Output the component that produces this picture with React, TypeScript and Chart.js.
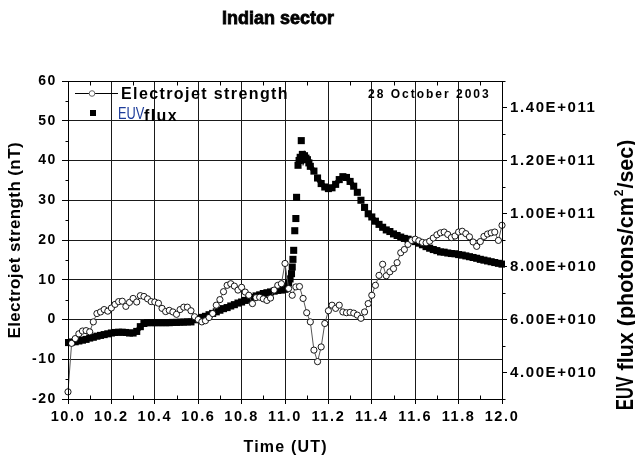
import React, { useEffect, useRef } from "react";
import { Chart, registerables } from "chart.js";

Chart.register(...registerables);

const FONT = '"Liberation Sans", Arial, Helvetica, sans-serif';

// ---- axes ----
const TIME_MIN = 10;
const TIME_MAX = 12;
const X_TICKS = [10.0, 10.2, 10.4, 10.6, 10.8, 11.0, 11.2, 11.4, 11.6, 11.8, 12.0];
const X_MINOR = [10.1, 10.3, 10.5, 10.7, 10.9, 11.1, 11.3, 11.5, 11.7, 11.9];
const LEFT_MIN = -20;
const LEFT_MAX = 60;
const LEFT_TICKS = [-20, -10, 0, 10, 20, 30, 40, 50, 60];
const LEFT_MINOR = [-15, -5, 5, 15, 25, 35, 45, 55];
const RIGHT_MIN = 3e10;
const RIGHT_MAX = 1.5e11;
const RIGHT_TICKS = [4e10, 6e10, 8e10, 1e11, 1.2e11, 1.4e11];
const RIGHT_MINOR = [3e10, 5e10, 7e10, 9e10, 1.1e11, 1.3e11, 1.5e11];

// ---- texts ----
const TITLE = "Indian sector";
const DATE_LABEL = "28 October 2003";
const X_TITLE = "Time (UT)";
const LEFT_TITLE = "Electrojet strength (nT)";
const SERIES_EJ = "Electrojet strength";
const SERIES_EUV = "EUV flux";

// ---- Electrojet strength (nT), one value per minute from 10:00 UT ----
const EJ_START_UT = 10;
const EJ_VALUES = [
  -18.2, -6.0, -4.8, -3.6, -2.9, -2.8, -3.1, -0.6, 1.5, 1.9,
  2.5, 2.1, 2.9, 3.8, 4.5, 4.6, 3.3, 4.3, 5.3, 4.4,
  6.0, 5.8, 5.2, 4.5, 4.4, 4.1, 2.8, 2.0, 2.3, 1.9,
  1.3, 2.5, 3.1, 3.1, 2.2, 0.7, 0.0, -0.6, -0.3, 0.5,
  1.5, 3.6, 5.0, 7.0, 8.6, 9.0, 8.4, 7.4, 8.1, 6.9,
  6.1, 4.0, 5.5, 5.6, 5.2, 4.8, 5.4, 7.4, 8.6, 9.0,
  14.1, 7.8, 6.1, 8.2, 8.3, 5.3, 1.7, -0.6, -7.7, -10.6,
  -6.9, -1.0, 2.2, 3.6, 2.8, 3.6, 1.9, 1.7, 1.8, 1.6,
  1.1, 0.3, 1.9, 4.0, 6.1, 8.6, 11.1, 13.9, 11.0, 12.0,
  12.8, 14.3, 16.8, 17.6, 18.9, 19.9, 20.2, 19.8, 19.4, 19.3,
  19.7, 20.5, 21.3, 21.8, 22.0, 21.4, 20.6, 21.0, 22.0, 22.2,
  21.6, 20.8, 19.5, 18.4, 19.6, 20.9, 21.5, 21.8, 22.0, 19.9,
  23.7,
];

// ---- EUV flux (photons/cm^2/sec), minutes after 10:00 UT ----
const EUV_MINUTES = [
  0, 1, 2, 3, 4, 5, 6, 7, 8, 9,
  10, 11, 12, 13, 14, 15, 16, 17, 18, 19,
  20, 21, 22, 23, 24, 25, 26, 27, 28, 29,
  30, 31, 32, 33, 34, 35, 36, 37, 38, 39,
  40, 41, 42, 43, 44, 45, 46, 47, 48, 49,
  50, 51, 52, 53, 54, 55, 56, 57, 58, 59,
  60, 60.5, 61, 61.4, 61.8, 62, 62.2, 62.4, 62.7, 63,
  63.2, 63.6, 63.9, 64.2, 64.5, 64.8, 65.1, 65.4, 65.8, 66.2,
  66.6, 67, 68, 69, 70, 71, 72, 73, 74, 75,
  76, 77, 78, 79, 80, 81, 82, 83, 84, 85,
  86, 87, 88, 89, 90, 91, 92, 93, 94, 95,
  96, 97, 98, 99, 100, 101, 102, 103, 104, 105,
  106, 107, 108, 109, 110, 111, 112, 113, 114, 115,
  116, 117, 118, 119, 120,
];
const EUV_FLUX = [
  5.13e10, 5.15e10, 5.16e10, 5.19e10, 5.22e10, 5.25e10, 5.30e10, 5.33e10, 5.37e10, 5.40e10,
  5.43e10, 5.46e10, 5.49e10, 5.51e10, 5.52e10, 5.52e10, 5.51e10, 5.49e10, 5.49e10, 5.55e10,
  5.73e10, 5.85e10, 5.88e10, 5.88e10, 5.88e10, 5.88e10, 5.88e10, 5.88e10, 5.88e10, 5.89e10,
  5.89e10, 5.90e10, 5.90e10, 5.91e10, 5.91e10, 5.99e10, 6.03e10, 6.08e10, 6.12e10, 6.18e10,
  6.23e10, 6.29e10, 6.35e10, 6.41e10, 6.45e10, 6.51e10, 6.56e10, 6.62e10, 6.66e10, 6.72e10,
  6.77e10, 6.83e10, 6.89e10, 6.93e10, 6.98e10, 7.01e10, 7.04e10, 7.07e10, 7.10e10, 7.11e10,
  7.14e10, 7.25e10, 7.38e10, 7.53e10, 7.73e10, 7.98e10, 8.27e10, 8.61e10, 9.35e10, 9.81e10,
  10.61e10, 11.82e10, 12.00e10, 12.12e10, 12.75e10, 12.23e10, 12.08e10, 12.18e10, 12.09e10, 12.03e10,
  11.91e10, 11.78e10, 11.60e10, 11.34e10, 11.13e10, 11.00e10, 10.94e10, 10.97e10, 11.10e10, 11.28e10,
  11.39e10, 11.36e10, 11.21e10, 11.03e10, 10.80e10, 10.50e10, 10.23e10, 9.99e10, 9.87e10, 9.71e10,
  9.59e10, 9.48e10, 9.38e10, 9.32e10, 9.23e10, 9.17e10, 9.11e10, 9.06e10, 9.03e10, 8.99e10,
  8.94e10, 8.88e10, 8.82e10, 8.75e10, 8.69e10, 8.64e10, 8.60e10, 8.55e10, 8.54e10, 8.51e10,
  8.49e10, 8.48e10, 8.45e10, 8.43e10, 8.40e10, 8.37e10, 8.34e10, 8.31e10, 8.27e10, 8.24e10,
  8.21e10, 8.18e10, 8.15e10, 8.12e10, 8.09e10,
];

function sci(v: number): string {
  const e = Math.floor(Math.log10(v) + 1e-9);
  const m = v / Math.pow(10, e);
  return m.toFixed(2) + "E+" + String(e).padStart(3, "0");
}

function drawText(
  ctx: CanvasRenderingContext2D,
  s: string,
  x: number,
  y: number,
  font: string,
  spacing: number,
  align: CanvasTextAlign = "left",
  color = "#000"
) {
  ctx.save();
  ctx.font = font;
  (ctx as any).letterSpacing = spacing + "px";
  ctx.fillStyle = color;
  ctx.textBaseline = "alphabetic";
  const w = ctx.measureText(s).width - spacing;
  let sx = x;
  if (align === "center") sx = x - w / 2;
  else if (align === "right") sx = x - w;
  ctx.textAlign = "left";
  ctx.fillText(s, sx, y);
  ctx.restore();
  return w;
}

const decorPlugin = {
  id: "decor",
  beforeDraw(chart: any) {
    chart.ctx.letterSpacing = "1.6px";
  },
  afterDraw(chart: any) {
    const ctx: CanvasRenderingContext2D = chart.ctx;
    const { left, right, top, bottom } = chart.chartArea;
    const xs = chart.scales.x;
    const ys = chart.scales.y;
    const y2 = chart.scales.y2;
    ctx.save();
    (ctx as any).letterSpacing = "0px";
    ctx.strokeStyle = "#000";
    ctx.lineWidth = 1;
    const L = Math.round(left) + 0.5;
    const R = Math.round(right) + 0.5;
    const T = Math.round(top) + 0.5;
    const B = Math.round(bottom) + 0.5;
    ctx.beginPath();
    ctx.rect(L, T, R - L, B - T);
    X_MINOR.forEach((v) => {
      const px = Math.round(xs.getPixelForValue(v)) + 0.5;
      ctx.moveTo(px, B);
      ctx.lineTo(px, B - 4);
      ctx.moveTo(px, T);
      ctx.lineTo(px, T + 4);
    });
    LEFT_MINOR.forEach((v) => {
      const py = Math.round(ys.getPixelForValue(v)) + 0.5;
      ctx.moveTo(L, py);
      ctx.lineTo(L - 3, py);
    });
    RIGHT_MINOR.forEach((v) => {
      const py = Math.round(y2.getPixelForValue(v)) + 0.5;
      ctx.moveTo(R, py);
      ctx.lineTo(R + 3, py);
    });
    ctx.stroke();

    // Title
    ctx.save();
    ctx.font = `bold 18px ${FONT}`;
    ctx.textAlign = "center";
    ctx.fillStyle = "#000";
    ctx.strokeStyle = "#000";
    ctx.lineWidth = 0.8;
    ctx.fillText(TITLE, 278, 23.5);
    ctx.strokeText(TITLE, 278, 23.5);
    ctx.restore();

    // date
    drawText(ctx, DATE_LABEL, 368, 97.5, `bold 12px ${FONT}`, 2);

    // X title
    drawText(ctx, X_TITLE, 285, 451.5, `bold 16px ${FONT}`, 1.2, "center");

    // Left title
    ctx.save();
    ctx.translate(20, 240.5);
    ctx.rotate(-Math.PI / 2);
    drawText(ctx, LEFT_TITLE, 0, 0, `bold 17px ${FONT}`, 0.4, "center");
    ctx.restore();

    // Right title
    ctx.save();
    ctx.translate(633, 410);
    ctx.rotate(-Math.PI / 2);
    ctx.fillStyle = "#000";
    ctx.save();
    ctx.scale(0.68, 1);
    ctx.font = `bold 24px ${FONT}`;
    ctx.fillText("EUV", 0, 0);
    const euvW = ctx.measureText("EUV").width * 0.68;
    ctx.restore();
    let cx = euvW + 6;
    ctx.font = `bold 21.5px ${FONT}`;
    const p1 = "flux (photons/cm";
    ctx.fillText(p1, cx, 0);
    cx += ctx.measureText(p1).width;
    ctx.font = `bold 12px ${FONT}`;
    ctx.fillText("2", cx + 1, -10);
    cx += ctx.measureText("2").width + 2;
    ctx.font = `bold 21.5px ${FONT}`;
    ctx.fillText("/sec)", cx, 0);
    ctx.restore();

    // Legend
    ctx.beginPath();
    ctx.strokeStyle = "#000";
    ctx.lineWidth = 1;
    ctx.moveTo(75, 93.5);
    ctx.lineTo(118, 93.5);
    ctx.stroke();
    ctx.beginPath();
    ctx.arc(92, 93.5, 2.8, 0, Math.PI * 2);
    ctx.fillStyle = "#fff";
    ctx.fill();
    ctx.strokeStyle = "#666";
    ctx.stroke();
    drawText(ctx, SERIES_EJ, 121, 99, `bold 16px ${FONT}`, 1.4);
    ctx.fillStyle = "#000";
    ctx.fillRect(90, 110, 6, 6);
    const euvWord = SERIES_EUV.split(" ")[0];
    const fluxWord = SERIES_EUV.split(" ")[1];
    ctx.save();
    ctx.translate(118, 118.5);
    ctx.scale(0.8, 1);
    ctx.font = `16px ${FONT}`;
    ctx.fillStyle = "#1d3c9a";
    ctx.fillText(euvWord, 0, 0);
    ctx.restore();
    drawText(ctx, fluxWord, 144, 120.5, `bold 16px ${FONT}`, 1.4);

    ctx.restore();
  },
};

export default function App() {
  const ref = useRef<HTMLCanvasElement | null>(null);
  useEffect(() => {
    const canvas = ref.current;
    if (!canvas) return;
    const ejData = EJ_VALUES.map((v, i) => ({ x: EJ_START_UT + i / 60, y: v }));
    const euvData = EUV_MINUTES.map((m, i) => ({ x: EJ_START_UT + m / 60, y: EUV_FLUX[i] }));
    const tickFont = (size: number) => ({ family: FONT, size, weight: "bold" as const });
    const chart = new Chart(canvas, {
      type: "scatter",
      data: {
        datasets: [
          {
            label: SERIES_EJ,
            data: ejData,
            yAxisID: "y",
            showLine: true,
            borderColor: "#555",
            borderWidth: 1,
            pointStyle: "circle",
            pointRadius: 3.1,
            pointBorderWidth: 0.9,
            pointBorderColor: "#000",
            pointBackgroundColor: "#fff",
            clip: 5,
          } as any,
          {
            label: SERIES_EUV,
            data: euvData,
            yAxisID: "y2",
            showLine: true,
            borderColor: "#000",
            borderWidth: 5,
            segment: {
              borderColor: (c: any) =>
                Math.abs(c.p1.parsed.y - c.p0.parsed.y) > 0.22e10 ? "rgba(0,0,0,0)" : "#000",
            },
            pointStyle: "rect",
            pointRadius: 5,
            pointBorderWidth: 0,
            pointBackgroundColor: "#000",
            pointBorderColor: "#000",
            clip: 3,
          } as any,
        ],
      },
      options: {
        animation: false,
        responsive: false,
        devicePixelRatio: 1,
        layout: { padding: { top: 81, left: 0, right: 0, bottom: 0 } },
        plugins: {
          legend: { display: false },
          title: { display: false },
          tooltip: { enabled: false },
        },
        scales: {
          x: {
            type: "linear",
            position: "bottom",
            min: TIME_MIN,
            max: TIME_MAX,
            afterBuildTicks: (s: any) => {
              s.ticks = X_TICKS.map((v) => ({ value: v }));
            },
            afterFit: (s: any) => {
              s.height = 61;
            },
            grid: { color: "#1a1a1a", lineWidth: 1, drawTicks: true, tickLength: 5, tickColor: "#000" },
            border: { display: true, color: "#000", width: 1 },
            ticks: {
              color: "#000",
              font: tickFont(14.5),
              padding: 4,
              maxRotation: 0,
              autoSkip: false,
              callback: (v: any) => Number(v).toFixed(1),
            },
          },
          y: {
            type: "linear",
            position: "left",
            min: LEFT_MIN,
            max: LEFT_MAX,
            afterBuildTicks: (s: any) => {
              s.ticks = LEFT_TICKS.map((v) => ({ value: v }));
            },
            afterFit: (s: any) => {
              s.width = 68;
            },
            grid: { color: "#1a1a1a", lineWidth: 1, drawTicks: true, tickLength: 6, tickColor: "#000" },
            border: { display: true, color: "#000", width: 1 },
            ticks: {
              color: "#000",
              font: tickFont(14),
              padding: 5,
              callback: (v: any) => String(Number(v)),
            },
          },
          y2: {
            type: "linear",
            position: "right",
            min: RIGHT_MIN,
            max: RIGHT_MAX,
            afterBuildTicks: (s: any) => {
              s.ticks = RIGHT_TICKS.map((v) => ({ value: v }));
            },
            afterFit: (s: any) => {
              s.width = 133;
            },
            grid: { drawOnChartArea: false, drawTicks: true, tickLength: 5, tickColor: "#000" },
            border: { display: true, color: "#000", width: 1 },
            ticks: {
              color: "#000",
              font: tickFont(15),
              padding: 3,
              callback: (v: any) => sci(Number(v)),
            },
          },
        },
      } as any,
      plugins: [decorPlugin],
    });
    return () => chart.destroy();
  }, []);
  return (
    <div style={{ position: "absolute", left: 0, top: 0, width: 635, height: 460, background: "#fff" }}>
      <canvas ref={ref} width={635} height={460} style={{ display: "block" }} />
    </div>
  );
}
